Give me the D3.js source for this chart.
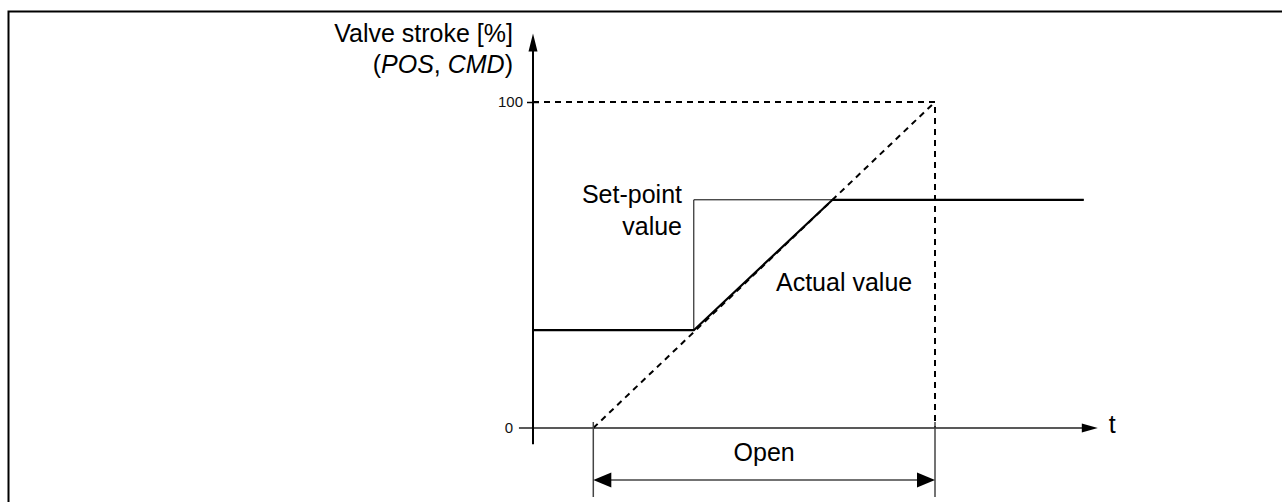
<!DOCTYPE html>
<html>
<head>
<meta charset="utf-8">
<script src="https://cdn.jsdelivr.net/npm/d3@7"></script>
<style>
  html, body { margin: 0; padding: 0; background: #fff; }
  svg { display: block; font-family: "Liberation Sans", Arial, Helvetica, sans-serif; }
</style>
</head>
<body>
<svg id="chart" width="1282" height="502"></svg>
<script>
// Time axis is in arbitrary units; stroke is in percent.
const yTickValues = [0, 100];
const yTickLabels = ["0", "100"];

// Set-point (CMD): steps from 30 % to 70 % at t = 40
const setpointT = [0, 40, 40, 137];
const setpointV = [30, 30, 70, 70];

// Actual position (POS): follows the opening ramp until it meets the set-point
const actualT = [0, 40, 74.5, 137];
const actualV = [30, 30, 70, 70];

// Full opening ramp 0 -> 100 % over the opening time
const rampT = [15, 100];
const rampV = [0, 100];

// 100 % limit and end of opening time
const limitT = [0, 100, 100];
const limitV = [100, 100, 0];

const openT = [15, 100];
const axisLabelLines = ["Valve stroke [%]", "(POS, CMD)"];

const svg = d3.select("#chart");

const x = d3.scaleLinear().domain([0, 100]).range([533, 935]);
const y = d3.scaleLinear().domain([0, 100]).range([428, 102]);

const line = d3.line().x(d => x(d[0])).y(d => y(d[1]));
const zip = (ts, vs) => ts.map((t, i) => [t, vs[i]]);
const FS = 25;

// frame
svg.append("path")
  .attr("d", "M8.5,502 L8.5,11.5 L1282,11.5")
  .attr("fill", "none").attr("stroke", "#000").attr("stroke-width", 2);

// x axis (time)
const xAxisEnd = x(140.5);
svg.append("line")
  .attr("x1", x(-3.5)).attr("x2", xAxisEnd - 10)
  .attr("y1", y(0)).attr("y2", y(0))
  .attr("stroke", "#222").attr("stroke-width", 1.6);
svg.append("path")
  .attr("d", `M${xAxisEnd},${y(0)} L${xAxisEnd - 16},${y(0) - 4.5} L${xAxisEnd - 16},${y(0) + 4.5} Z`)
  .attr("fill", "#000");
svg.append("text")
  .attr("x", xAxisEnd + 11).attr("y", y(0) + 5)
  .attr("font-size", FS).text("t");

// y axis (stroke)
const yAxisTop = y(121);
svg.append("line")
  .attr("x1", x(0)).attr("x2", x(0))
  .attr("y1", y(-5)).attr("y2", yAxisTop + 10)
  .attr("stroke", "#000").attr("stroke-width", 2);
svg.append("path")
  .attr("d", `M${x(0)},${yAxisTop} L${x(0) - 4.5},${yAxisTop + 18} L${x(0) + 4.5},${yAxisTop + 18} Z`)
  .attr("fill", "#000");

const yAxis = d3.axisLeft(y)
  .tickValues(yTickValues)
  .tickFormat((d, i) => yTickLabels[i])
  .tickSize(6)
  .tickPadding(4);
const yg = svg.append("g")
  .attr("transform", `translate(${x(0)},0)`)
  .attr("color", "#000")
  .call(yAxis);
yg.select(".domain").remove();
yg.selectAll(".tick line")
  .attr("x1", -6).attr("x2", 6)
  .attr("stroke", "#000").attr("stroke-width", 1.5)
  .attr("opacity", d => d === 0 ? 0 : 1);
yg.selectAll(".tick text")
  .attr("font-size", 15)
  .attr("font-family", "Liberation Sans, Arial, sans-serif")
  .attr("fill", "#111")
  .attr("x", d => d === 0 ? -20 : -10);

// axis title
const title = svg.append("text")
  .attr("text-anchor", "end")
  .attr("font-size", FS);
title.append("tspan").attr("x", 513).attr("y", 42).text(axisLabelLines[0]);
const l2 = title.append("tspan").attr("x", 513).attr("y", 73);
l2.append("tspan").text("(");
l2.append("tspan").attr("font-style", "italic").text("POS");
l2.append("tspan").text(", ");
l2.append("tspan").attr("font-style", "italic").text("CMD");
l2.append("tspan").text(")");

// dashed guides
svg.append("path")
  .attr("d", line(zip(limitT, limitV)))
  .attr("fill", "none").attr("stroke", "#000")
  .attr("stroke-width", 2).attr("stroke-dasharray", "6,5");
svg.append("path")
  .attr("d", line(zip(rampT, rampV)))
  .attr("fill", "none").attr("stroke", "#000")
  .attr("stroke-width", 2).attr("stroke-dasharray", "6,5");

// opening-time dimension
const dimY = 480;
openT.forEach(t => {
  svg.append("line")
    .attr("x1", x(t)).attr("x2", x(t))
    .attr("y1", y(0) - 6).attr("y2", 497)
    .attr("stroke", "#444").attr("stroke-width", 1.5);
});
svg.append("line")
  .attr("x1", x(openT[0]) + 10).attr("x2", x(openT[1]) - 10)
  .attr("y1", dimY).attr("y2", dimY)
  .attr("stroke", "#444").attr("stroke-width", 1.5);
svg.append("path")
  .attr("d", `M${x(openT[0])},${dimY} L${x(openT[0]) + 18},${dimY - 7.5} L${x(openT[0]) + 18},${dimY + 7.5} Z`)
  .attr("fill", "#000");
svg.append("path")
  .attr("d", `M${x(openT[1])},${dimY} L${x(openT[1]) - 18},${dimY - 7.5} L${x(openT[1]) - 18},${dimY + 7.5} Z`)
  .attr("fill", "#000");
svg.append("text")
  .attr("x", (x(openT[0]) + x(openT[1])) / 2).attr("y", 461)
  .attr("text-anchor", "middle").attr("font-size", FS).text("Open");

// set-point (thin)
svg.append("path")
  .attr("d", line(zip(setpointT, setpointV)))
  .attr("fill", "none").attr("stroke", "#000").attr("stroke-width", 1);

// actual value (thick)
svg.append("path")
  .attr("d", line(zip(actualT, actualV)))
  .attr("fill", "none").attr("stroke", "#000").attr("stroke-width", 2.2);

// labels
svg.append("text")
  .attr("x", 682).attr("y", 203).attr("text-anchor", "end")
  .attr("font-size", FS).text("Set-point");
svg.append("text")
  .attr("x", 682).attr("y", 235).attr("text-anchor", "end")
  .attr("font-size", FS).text("value");
svg.append("text")
  .attr("x", 776).attr("y", 291)
  .attr("font-size", FS).text("Actual value");
</script>
</body>
</html>
